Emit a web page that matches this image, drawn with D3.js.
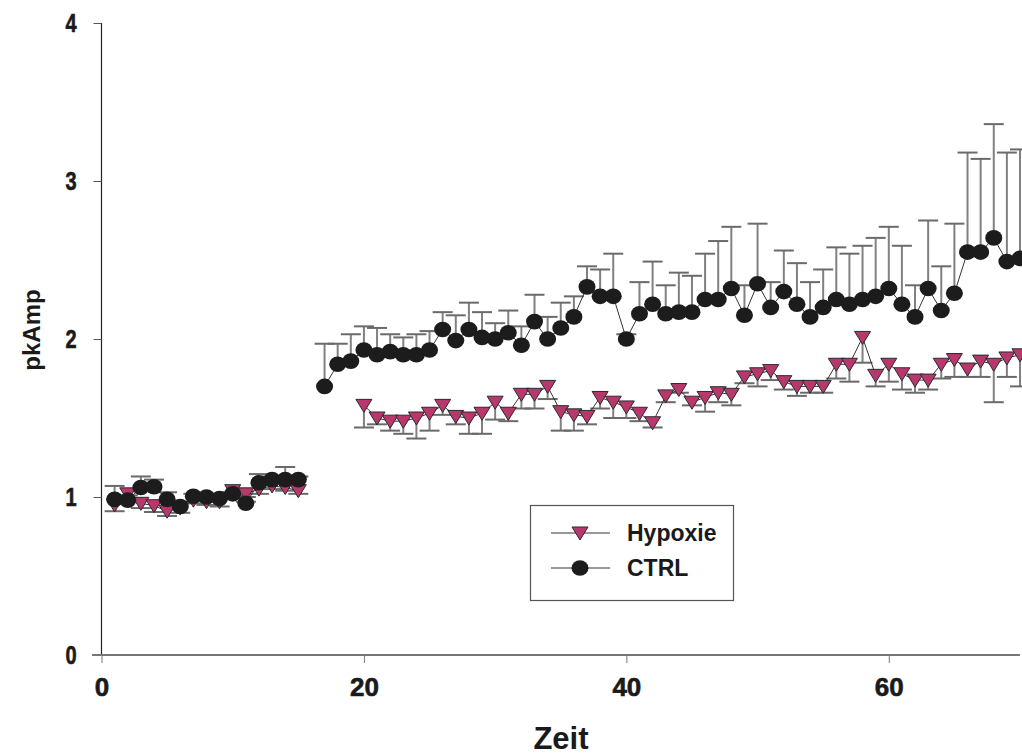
<!DOCTYPE html>
<html>
<head>
<meta charset="utf-8">
<script src="https://cdn.jsdelivr.net/npm/d3@7"></script>
<style>
  html, body { margin: 0; padding: 0; background: #fff; }
  svg { display: block; font-family: "Liberation Sans", Arial, sans-serif; }
</style>
</head>
<body>
<svg id="chart" width="1022" height="755"></svg>
<script>
// Zeitpunkte (Minuten)
const zeit = [1,2,3,4,5,6,7,8,9,10,11,12,13,14,15,16,17,18,19,20,
  21,22,23,24,25,26,27,28,29,30,31,32,33,34,35,36,37,38,39,40,
  41,42,43,44,45,46,47,48,49,50,51,52,53,54,55,56,57,58,59,60,
  61,62,63,64,65,66,67,68,69,70];

// CTRL: Mittelwerte und obere Fehlerbalken
const ctrlMean = [0.985,0.98,1.06,1.065,0.985,0.94,1.005,1.0,0.99,1.02,0.96,1.09,1.11,1.11,1.11,null,
  1.70,1.84,1.86,1.93,1.90,1.92,1.90,1.90,1.93,2.06,1.99,2.06,2.01,2.00,2.04,1.96,2.11,2.00,2.07,2.14,
  2.33,2.27,2.27,2.00,2.16,2.22,2.16,2.17,2.17,2.25,2.25,2.32,2.15,2.35,2.20,2.30,2.22,2.14,2.20,2.25,
  2.22,2.25,2.27,2.32,2.22,2.14,2.32,2.18,2.29,2.55,2.55,2.64,2.49,2.51];
const ctrlErr = [0.085,0.03,0.07,0.045,0.045,0.03,0.015,0.02,0.03,0.01,0.01,0.055,0.02,0.08,0.02,null,
  0.27,0.13,0.17,0.15,0.17,0.11,0.11,0.13,0.12,0.11,0.16,0.17,0.16,0.10,0.14,0.12,0.17,0.14,0.16,0.13,
  0.13,0.17,0.27,0.03,0.20,0.27,0.18,0.25,0.23,0.29,0.37,0.39,0.19,0.38,0.16,0.26,0.26,0.22,0.24,0.33,
  0.32,0.34,0.37,0.39,0.37,0.20,0.43,0.28,0.44,0.63,0.59,0.72,0.69,0.69];

// Hypoxie: Mittelwerte und untere Fehlerbalken
const hypoMean = [0.95,1.02,0.96,0.945,0.91,0.93,0.98,0.97,0.97,1.04,1.02,1.05,1.07,1.06,1.04,null,null,null,null,
  1.58,1.50,1.48,1.48,1.50,1.53,1.58,1.51,1.50,1.53,1.60,1.53,1.65,1.65,1.70,1.54,1.52,1.51,1.63,1.60,1.57,
  1.53,1.47,1.64,1.68,1.60,1.63,1.66,1.65,1.76,1.78,1.80,1.73,1.70,1.70,1.70,1.84,1.84,2.01,1.77,1.84,
  1.78,1.74,1.74,1.84,1.87,1.81,1.86,1.84,1.88,1.90];
const hypoErr = [0.04,0.04,0.03,0.04,0.03,0.03,0.02,0.02,0.03,0.03,0.02,0.03,0.02,0.02,0.02,null,null,null,null,
  0.14,0.04,0.06,0.08,0.13,0.11,0.06,0.05,0.10,0.13,0.11,0.05,0.09,0.09,0.08,0.12,0.10,0.05,0.07,0.10,0.07,
  0.05,0.03,0.04,0.02,0.02,0.09,0.06,0.07,0.04,0.08,0.06,0.05,0.06,0.04,0.04,0.09,0.11,0.16,0.07,0.11,
  0.10,0.08,0.06,0.09,0.11,0.05,0.10,0.24,0.12,0.20];

const xTicks = [0, 20, 40, 60];
const yTicks = [0, 1, 2, 3, 4];
const seriesNames = ["Hypoxie", "CTRL"];

const svg = d3.select("#chart");
const x = d3.scaleLinear().domain([0, 70]).range([101.5, 1020]);
const y = d3.scaleLinear().domain([0, 4]).range([655, 23]);

const ctrl = zeit.map((t, i) => ({ t, v: ctrlMean[i], e: ctrlErr[i] }));
const hypo = zeit.map((t, i) => ({ t, v: hypoMean[i], e: hypoErr[i] }));

const ink = "#1a1a1a";

// Achsen
const yAxis = svg.append("g").attr("transform", "translate(101.5,0)")
  .call(d3.axisLeft(y).tickValues(yTicks).tickSize(8).tickPadding(17).tickFormat(d3.format("d")));
yAxis.select(".domain").attr("stroke", "#222").attr("stroke-width", 1.2).attr("d", "M0,23V655");
yAxis.selectAll(".tick line").attr("stroke", "#555");
yAxis.selectAll(".tick text").attr("font-size", 25).attr("font-weight", "bold").attr("fill", ink)
  .attr("stroke", ink).attr("stroke-width", 0.6)
  .attr("transform", "scale(0.8,1)").attr("x", -25 / 0.8);

const xAxis = svg.append("g").attr("transform", "translate(0,655)")
  .call(d3.axisBottom(x).tickValues(xTicks).tickSize(8).tickPadding(15).tickFormat(d3.format("d")));
xAxis.select(".domain").attr("stroke", "#777").attr("stroke-width", 2).attr("d", "M92,0H1020");
xAxis.selectAll(".tick line").attr("stroke", "#777");
xAxis.selectAll(".tick text").attr("font-size", 26).attr("font-weight", "bold").attr("fill", ink)
  .attr("stroke", ink).attr("stroke-width", 0.6);

svg.append("text").attr("x", 561).attr("y", 749).attr("text-anchor", "middle")
  .attr("font-size", 31).attr("font-weight", "bold").attr("fill", ink).text("Zeit");
svg.append("text").attr("transform", "translate(40,330) rotate(-90)").attr("text-anchor", "middle")
  .attr("font-size", 24).attr("font-weight", "bold").attr("fill", ink).text("pkAmp");

const plot = svg.append("g");
const line = d3.line().defined(d => d.v != null).x(d => x(d.t)).y(d => y(d.v));
const triPath = "M-8,-6L8,-6L0,7Z";
const triColor = "#b8386d";

// Fehlerbalken zeichnen (Richtung: +1 nach oben, -1 nach unten)
function errorBars(data, dir) {
  const g = plot.append("g");
  const pts = data.filter(d => d.v != null);
  g.selectAll("line.stem").data(pts).join("line")
    .attr("x1", d => x(d.t)).attr("x2", d => x(d.t))
    .attr("y1", d => y(d.v)).attr("y2", d => y(d.v + dir * d.e))
    .attr("stroke", "#808080").attr("stroke-width", 2);
  g.selectAll("line.cap").data(pts).join("line")
    .attr("x1", d => x(d.t) - 10).attr("x2", d => x(d.t) + 10)
    .attr("y1", d => y(d.v + dir * d.e)).attr("y2", d => y(d.v + dir * d.e))
    .attr("stroke", "#6a6a6a").attr("stroke-width", 2);
}

// Hypoxie
errorBars(hypo, -1);
plot.append("path").datum(hypo).attr("d", line).attr("fill", "none").attr("stroke", "#333").attr("stroke-width", 1);
plot.append("g").selectAll("path").data(hypo.filter(d => d.v != null)).join("path")
  .attr("d", triPath).attr("transform", d => `translate(${x(d.t)},${y(d.v)})`)
  .attr("fill", triColor).attr("stroke", "#2a2a2a").attr("stroke-width", 1);

// CTRL
errorBars(ctrl, 1);
plot.append("path").datum(ctrl).attr("d", line).attr("fill", "none").attr("stroke", "#333").attr("stroke-width", 1);
plot.append("g").selectAll("ellipse").data(ctrl.filter(d => d.v != null)).join("ellipse")
  .attr("cx", d => x(d.t)).attr("cy", d => y(d.v)).attr("rx", 8.5).attr("ry", 7.8)
  .attr("fill", "#1c1c1c");

// Legende
const leg = svg.append("g");
leg.append("rect").attr("x", 530.5).attr("y", 505.5).attr("width", 203).attr("height", 95)
  .attr("fill", "#fff").attr("stroke", "#555").attr("stroke-width", 1.2);
seriesNames.forEach((name, i) => {
  const ly = 533 + i * 35;
  leg.append("line").attr("x1", 551).attr("x2", 610).attr("y1", ly).attr("y2", ly)
    .attr("stroke", "#333").attr("stroke-width", 1);
  if (name === "Hypoxie") {
    leg.append("path").attr("d", triPath).attr("transform", `translate(580,${ly})`)
      .attr("fill", triColor).attr("stroke", "#2a2a2a").attr("stroke-width", 1);
  } else {
    leg.append("ellipse").attr("cx", 580).attr("cy", ly).attr("rx", 8.5).attr("ry", 7.8).attr("fill", "#1c1c1c");
  }
  leg.append("text").attr("x", 627).attr("y", ly + 8).attr("font-size", 23).attr("font-weight", "bold")
    .attr("fill", ink).text(name);
});
</script>
</body>
</html>
